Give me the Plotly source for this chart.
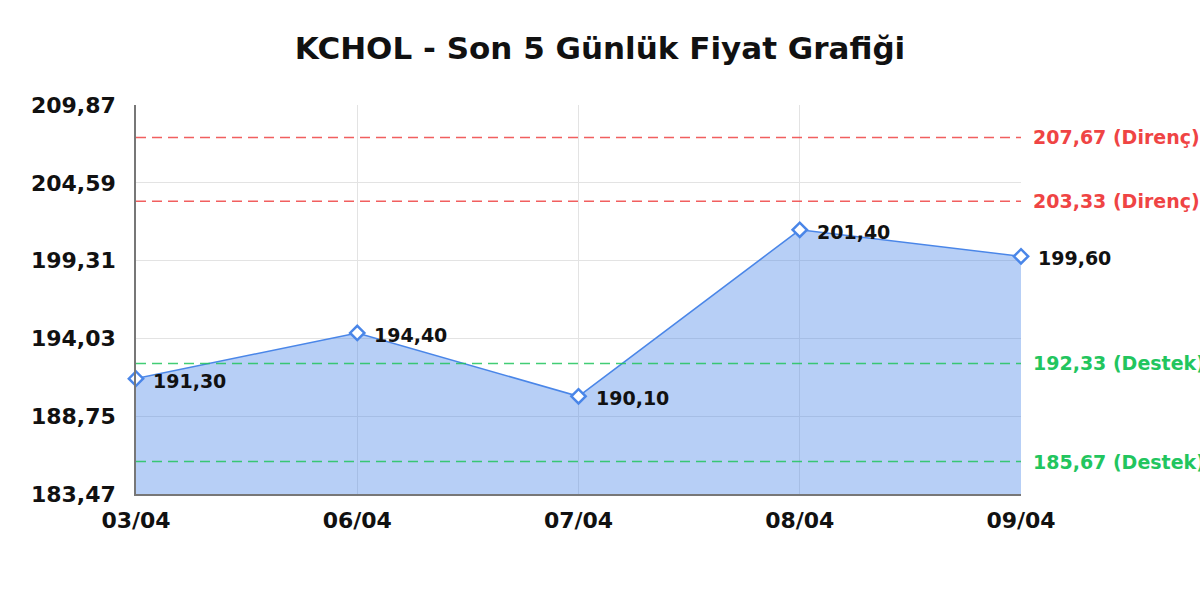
import plotly.graph_objects as go

dates = ["03/04", "06/04", "07/04", "08/04", "09/04"]
prices = [191.30, 194.40, 190.10, 201.40, 199.60]
price_labels = ["191,30", "194,40", "190,10", "201,40", "199,60"]

y_ticks = [183.47, 188.75, 194.03, 199.31, 204.59, 209.87]
y_tick_labels = ["183,47", "188,75", "194,03", "199,31", "204,59", "209,87"]

resistance_levels = [207.67, 203.33]
resistance_labels = ["207,67 (Direnç)", "203,33 (Direnç)"]
support_levels = [192.33, 185.67]
support_labels = ["192,33 (Destek)", "185,67 (Destek)"]

title_text = "KCHOL - Son 5 Günlük Fiyat Grafiği"

FONT = "DejaVu Sans"
RED = "#ef4444"
GREEN = "#22c55e"
BLUE = "#4a86e8"

x_pos = list(range(len(dates)))

fig = go.Figure()
fig.add_trace(go.Scatter(
    x=x_pos, y=prices,
    mode="lines+markers",
    fill="tozeroy",
    fillcolor="rgba(74,134,232,0.4)",
    line=dict(color=BLUE, width=1.5),
    marker=dict(symbol="diamond", size=11, color="white", line=dict(width=2.5, color=BLUE)),
    cliponaxis=False,
    showlegend=False,
))

shapes = []
annotations = []
for xi, p, lb in zip(x_pos, prices, price_labels):
    annotations.append(dict(x=xi, y=p, xref="x", yref="y", text=lb, showarrow=False,
                            xanchor="left", yanchor="middle", xshift=15, yshift=-2,
                            font=dict(family=FONT, size=19, color="#111111", weight="bold")))
for lv, lb in zip(resistance_levels, resistance_labels):
    shapes.append(dict(type="line", xref="paper", x0=0, x1=1, yref="y", y0=lv, y1=lv,
                       line=dict(color=RED, width=1.5, dash="10px,6px"), opacity=0.85))
    annotations.append(dict(xref="paper", x=1, yref="y", y=lv, text=lb, showarrow=False,
                            xanchor="left", yanchor="middle", xshift=10,
                            font=dict(family=FONT, size=19, color=RED, weight="bold")))
for lv, lb in zip(support_levels, support_labels):
    shapes.append(dict(type="line", xref="paper", x0=0, x1=1, yref="y", y0=lv, y1=lv,
                       line=dict(color=GREEN, width=1.5, dash="10px,6px"), opacity=0.85))
    annotations.append(dict(xref="paper", x=1, yref="y", y=lv, text=lb, showarrow=False,
                            xanchor="left", yanchor="middle", xshift=10,
                            font=dict(family=FONT, size=19, color=GREEN, weight="bold")))

fig.update_layout(
    width=1200, height=600,
    margin=dict(l=136, r=179, t=105, b=106),
    paper_bgcolor="white", plot_bgcolor="white",
    title=dict(text=title_text, x=0.5, xanchor="center", y=0.92, yanchor="middle",
               font=dict(family=FONT, size=31, color="#111111", weight="bold")),
    shapes=shapes,
    annotations=annotations,
    xaxis=dict(
        range=[0, len(dates) - 1],
        tickmode="array", tickvals=x_pos, ticktext=dates,
        showgrid=True, gridcolor="#e3e3e3", gridwidth=1,
        showline=True, linecolor="#777777", linewidth=1.5,
        zeroline=False,
        tickfont=dict(family=FONT, size=22, color="#111111", weight="bold"),
        ticks="", ticklabelstandoff=6,
    ),
    yaxis=dict(
        range=[y_ticks[0], y_ticks[-1]],
        tickmode="array", tickvals=y_ticks, ticktext=y_tick_labels,
        showgrid=True, gridcolor="#e3e3e3", gridwidth=1,
        showline=True, linecolor="#777777", linewidth=1.5,
        zeroline=False,
        tickfont=dict(family=FONT, size=22, color="#111111", weight="bold"),
        ticks="", ticklabelstandoff=14,
    ),
)

fig.write_html(
    "out.html",
    config={"displayModeBar": False},
    post_script="document.body.style.margin='0';document.body.style.overflow='hidden';",
)
